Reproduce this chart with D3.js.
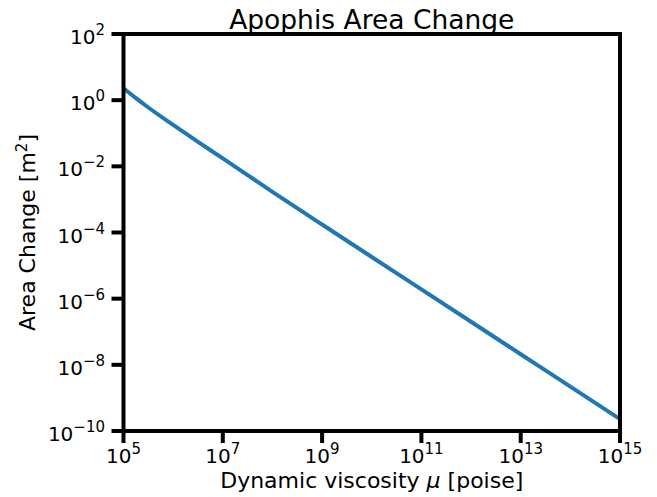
<!DOCTYPE html>
<html>
<head>
<meta charset="utf-8">
<script src="https://cdn.jsdelivr.net/npm/d3@7"></script>
<style>
  body { margin: 0; background: #fff; }
  text { font-family: "DejaVu Sans", sans-serif; fill: #000; }
</style>
</head>
<body>
<div id="chart"></div>
<script>
// Viscosity values (poise) and the area change (m^2)
const viscosity = [1e5, 10 ** 5.25, 10 ** 5.5, 1e6, 10 ** 6.5, 1e7, 1e8, 1e9, 1e10, 1e11, 1e12, 1e13, 1e14, 1e15];
const areaChange = [2.29, 1.15, 0.60, 0.178, 0.055, 0.0174, 1.70e-3, 1.74e-4, 1.82e-5, 1.91e-6, 2.0e-7, 2.09e-8, 2.19e-9, 2.29e-10];

const xTickExp = [5, 7, 9, 11, 13, 15];
const yTickExp = [2, 0, -2, -4, -6, -8, -10];

const W = 657, H = 497;
const margin = { top: 34, right: 37, bottom: 66, left: 123.5 };

const svg = d3.select("#chart").append("svg")
    .attr("width", W)
    .attr("height", H);

const x = d3.scaleLog()
    .domain([1e5, 1e15])
    .range([margin.left, W - margin.right]);

const y = d3.scaleLog()
    .domain([1e-10, 1e2])
    .range([H - margin.bottom, margin.top]);

// exponent label like 10^n, with the minus sign as a real minus
function expLabel(sel, e) {
    sel.append("tspan").text("10");
    sel.append("tspan")
        .attr("dy", -9)
        .attr("font-size", "15px")
        .text(String(e).replace("-", "\u2212"));
}

// line first, frame on top
const line = d3.line()
    .x((d, i) => x(viscosity[i]))
    .y(d => y(d))
    .curve(d3.curveMonotoneX);

svg.append("path")
    .datum(areaChange)
    .attr("fill", "none")
    .attr("stroke", "#1f77b4")
    .attr("stroke-width", 4)
    .attr("d", line);

// x ticks
xTickExp.forEach(e => {
    const px = x(10 ** e);
    svg.append("line")
        .attr("x1", px).attr("x2", px)
        .attr("y1", y(1e-10)).attr("y2", y(1e-10) + 12)
        .attr("stroke", "#000")
        .attr("stroke-width", 4);
    const t = svg.append("text")
        .attr("x", px)
        .attr("y", 463)
        .attr("text-anchor", "middle")
        .attr("font-size", "20px");
    expLabel(t, e);
});

// y ticks
yTickExp.forEach(e => {
    const py = y(10 ** e);
    svg.append("line")
        .attr("x1", x(1e5) - 12).attr("x2", x(1e5))
        .attr("y1", py).attr("y2", py)
        .attr("stroke", "#000")
        .attr("stroke-width", 4);
    const t = svg.append("text")
        .attr("x", 105)
        .attr("y", py + 10)
        .attr("text-anchor", "end")
        .attr("font-size", "20px");
    expLabel(t, e);
});

// frame
svg.append("rect")
    .attr("x", x(1e5))
    .attr("y", y(1e2))
    .attr("width", x(1e15) - x(1e5))
    .attr("height", y(1e-10) - y(1e2))
    .attr("fill", "none")
    .attr("stroke", "#000")
    .attr("stroke-width", 4);

// title and axis labels
svg.append("text")
    .attr("x", (x(1e5) + x(1e15)) / 2)
    .attr("y", 29)
    .attr("text-anchor", "middle")
    .attr("font-size", "26.5px")
    .text("Apophis Area Change");

const xl = svg.append("text")
    .attr("x", (x(1e5) + x(1e15)) / 2)
    .attr("y", 488)
    .attr("text-anchor", "middle")
    .attr("font-size", "22px");
xl.append("tspan").text("Dynamic viscosity ");
xl.append("tspan").attr("font-style", "italic").text("\u03bc");
xl.append("tspan").text(" [poise]");

const yl = svg.append("text")
    .attr("transform", `translate(35,${(y(1e2) + y(1e-10)) / 2}) rotate(-90)`)
    .attr("text-anchor", "middle")
    .attr("font-size", "22px");
yl.append("tspan").text("Area Change [m");
yl.append("tspan").attr("dy", -8).attr("font-size", "15px").text("2");
yl.append("tspan").attr("dy", 8).text("]");
</script>
</body>
</html>
